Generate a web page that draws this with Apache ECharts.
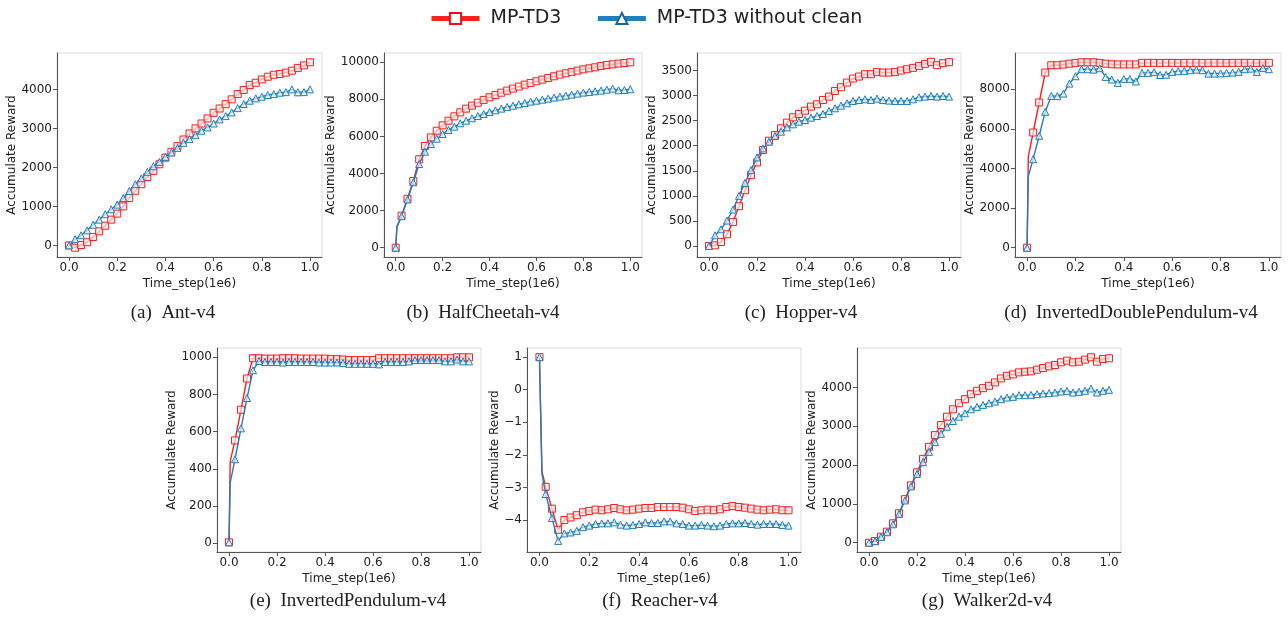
<!DOCTYPE html>
<html>
<head>
<meta charset="utf-8">
<script src="https://cdn.jsdelivr.net/npm/echarts@6/dist/echarts.min.js"></script>
<style>
  html, body { margin: 0; padding: 0; background: #fff; }
  #chart { width: 1288px; height: 625px; }
</style>
</head>
<body>
<div id="chart"></div>
<script>
// time steps (1e6), one marker every 0.025
const steps = [0, 0.025, 0.05, 0.075, 0.1, 0.125, 0.15, 0.175, 0.2, 0.225, 0.25, 0.275, 0.3, 0.325, 0.35, 0.375, 0.4,
  0.425, 0.45, 0.475, 0.5, 0.525, 0.55, 0.575, 0.6, 0.625, 0.65, 0.675, 0.7, 0.725, 0.75, 0.775, 0.8, 0.825, 0.85,
  0.875, 0.9, 0.925, 0.95, 0.975, 1.0];
const xTicks = [0, 0.2, 0.4, 0.6, 0.8, 1.0];

// (a) Ant-v4
const antRed = [0, -60, 10, 80, 215, 360, 505, 660, 815, 1000, 1215, 1400, 1570, 1755, 1910, 2080, 2250, 2400, 2545,
  2715, 2870, 3000, 3125, 3255, 3400, 3510, 3620, 3745, 3880, 3985, 4110, 4170, 4255, 4325, 4375, 4395, 4430, 4480,
  4550, 4615, 4695];
const antBlue = [0, 160, 260, 385, 530, 660, 800, 925, 1045, 1215, 1395, 1570, 1720, 1885, 2030, 2140, 2270, 2380,
  2500, 2630, 2725, 2825, 2940, 3025, 3125, 3230, 3315, 3410, 3520, 3625, 3710, 3770, 3810, 3855, 3880, 3915, 3930,
  4000, 3925, 3930, 4000];
const antTicks = [0, 1000, 2000, 3000, 4000];

// (b) HalfCheetah-v4
const cheetahRed = [0, 1730, 2640, 3600, 4770, 5490, 5950, 6310, 6600, 6850, 7085, 7300, 7500, 7660, 7820, 7970, 8110,
  8240, 8360, 8470, 8580, 8690, 8795, 8885, 8975, 9065, 9155, 9245, 9335, 9405, 9480, 9550, 9620, 9675, 9730, 9800,
  9855, 9890, 9930, 9960, 10000];
const cheetahBlue = [0, 1700, 2600, 3530, 4515, 5180, 5590, 5880, 6130, 6350, 6530, 6710, 6850, 6980, 7100, 7210, 7320,
  7410, 7500, 7590, 7660, 7735, 7805, 7880, 7930, 7985, 8040, 8095, 8150, 8200, 8255, 8310, 8365, 8400, 8435, 8470,
  8525, 8580, 8490, 8505, 8545];
const cheetahEarlyRed = [0.005, 1150];
const cheetahEarlyBlue = [0.005, 1100];
const cheetahTicks = [0, 2000, 4000, 6000, 8000, 10000];

// (c) Hopper-v4
const hopperRed = [0, 13, 80, 233, 480, 793, 1113, 1413, 1667, 1913, 2100, 2213, 2347, 2460, 2567, 2633, 2700, 2780,
  2827, 2913, 2980, 3093, 3167, 3260, 3340, 3380, 3427, 3427, 3473, 3460, 3460, 3473, 3500, 3527, 3553, 3593, 3633,
  3673, 3607, 3647, 3667];
const hopperBlue = [0, 213, 333, 507, 727, 1000, 1260, 1513, 1767, 1947, 2080, 2193, 2280, 2367, 2427, 2480, 2513, 2560,
  2593, 2633, 2693, 2747, 2800, 2847, 2893, 2913, 2927, 2913, 2940, 2913, 2900, 2893, 2893, 2893, 2927, 2967, 2980,
  2993, 2980, 2993, 2980];
const hopperTicks = [0, 500, 1000, 1500, 2000, 2500, 3000, 3500];

// (d) InvertedDoublePendulum-v4
const idpRed = [0, 5815, 7330, 8840, 9210, 9210, 9245, 9290, 9330, 9360, 9360, 9360, 9330, 9290, 9260, 9250, 9250,
  9250, 9250, 9330, 9330, 9330, 9325, 9330, 9330, 9320, 9330, 9330, 9330, 9325, 9330, 9330, 9330, 9320, 9330, 9330,
  9330, 9330, 9325, 9330, 9330];
const idpBlue = [0, 4470, 5650, 6860, 7660, 7650, 7780, 8285, 8655, 9010, 9010, 8990, 9060, 8620, 8490, 8320, 8520,
  8520, 8390, 8825, 8825, 8860, 8720, 8730, 8875, 8910, 8925, 8960, 8990, 8960, 8790, 8790, 8800, 8825, 8840, 8875,
  9010, 9040, 8875, 9075, 9010];
const idpEarlyRed = [0.005, 4590];
const idpEarlyBlue = [0.005, 3610];
const idpTicks = [0, 2000, 4000, 6000, 8000];

// (e) InvertedPendulum-v4
const ipRed = [5, 553, 718, 886, 995, 995, 993, 993, 993, 995, 995, 995, 993, 993, 993, 993, 993, 990, 990, 988, 985,
  985, 985, 985, 985, 995, 995, 995, 995, 995, 995, 995, 995, 995, 995, 995, 995, 995, 1000, 1000, 1000];
const ipBlue = [5, 452, 618, 781, 930, 980, 975, 975, 975, 972, 975, 975, 975, 975, 975, 972, 972, 972, 972, 970, 965,
  965, 965, 965, 965, 962, 975, 975, 975, 975, 978, 985, 985, 985, 985, 985, 978, 978, 988, 978, 978];
const ipEarlyRed = [0.005, 440];
const ipEarlyBlue = [0.005, 325];
const ipTicks = [0, 200, 400, 600, 800, 1000];

// (f) Reacher-v4
const reacherRed = [1.0, -2.98, -3.65, -4.3, -4.0, -3.92, -3.85, -3.76, -3.72, -3.68, -3.70, -3.67, -3.63, -3.67, -3.70,
  -3.68, -3.65, -3.63, -3.63, -3.60, -3.60, -3.60, -3.60, -3.62, -3.67, -3.72, -3.70, -3.68, -3.70, -3.67, -3.60, -3.57,
  -3.60, -3.62, -3.65, -3.68, -3.70, -3.68, -3.67, -3.70, -3.70];
const reacherBlue = [1.0, -3.2, -3.94, -4.64, -4.41, -4.38, -4.33, -4.22, -4.17, -4.12, -4.10, -4.10, -4.07, -4.14,
  -4.17, -4.15, -4.12, -4.07, -4.09, -4.09, -4.04, -4.04, -4.10, -4.12, -4.17, -4.17, -4.15, -4.17, -4.19, -4.17, -4.12,
  -4.10, -4.10, -4.09, -4.12, -4.14, -4.12, -4.12, -4.12, -4.15, -4.17];
const reacherEarlyRed = [0.01, -2.51];
const reacherEarlyBlue = [0.01, -2.58];
const reacherTicks = [-5, -4, -3, -2, -1, 0, 1];

// (g) Walker2d-v4
const walkerRed = [0, 43, 155, 285, 500, 760, 1123, 1477, 1814, 2160, 2471, 2773, 3032, 3248, 3438, 3594, 3698, 3827,
  3914, 3983, 4043, 4130, 4233, 4302, 4337, 4389, 4406, 4415, 4458, 4501, 4544, 4579, 4648, 4691, 4648, 4665, 4717,
  4778, 4665, 4734, 4752];
const walkerBlue = [0, 40, 150, 270, 475, 743, 1089, 1451, 1771, 2073, 2341, 2592, 2808, 2989, 3136, 3248, 3335, 3438,
  3499, 3551, 3594, 3637, 3698, 3741, 3758, 3801, 3801, 3810, 3827, 3845, 3853, 3870, 3896, 3914, 3870, 3888, 3914,
  3974, 3870, 3914, 3940];
const walkerTicks = [0, 1000, 2000, 3000, 4000];

const RED = '#ff1f1f';
const BLUE = '#1f80c0';
const FONT = 'DejaVu Sans';

const panels = [
  { caption: '(a)  Ant-v4', red: antRed, blue: antBlue, ticks: antTicks, ymin: -298, ymax: 4933 },
  { caption: '(b)  HalfCheetah-v4', red: cheetahRed, blue: cheetahBlue, er: cheetahEarlyRed, eb: cheetahEarlyBlue, ticks: cheetahTicks, ymin: -500, ymax: 10500 },
  { caption: '(c)  Hopper-v4', red: hopperRed, blue: hopperBlue, ticks: hopperTicks, ymin: -220, ymax: 3850 },
  { caption: '(d)  InvertedDoublePendulum-v4', red: idpRed, blue: idpBlue, er: idpEarlyRed, eb: idpEarlyBlue, ticks: idpTicks, ymin: -468, ymax: 9828 },
  { caption: '(e)  InvertedPendulum-v4', red: ipRed, blue: ipBlue, er: ipEarlyRed, eb: ipEarlyBlue, ticks: ipTicks, ymin: -47, ymax: 1050 },
  { caption: '(f)  Reacher-v4', red: reacherRed, blue: reacherBlue, er: reacherEarlyRed, eb: reacherEarlyBlue, ticks: reacherTicks, ymin: -4.98, ymax: 1.28 },
  { caption: '(g)  Walker2d-v4', red: walkerRed, blue: walkerBlue, ticks: walkerTicks, ymin: -239, ymax: 5017 }
];

// plot boxes: left, top, width, height, y-name gap, caption centre
const layout = [
  { l: 57, t: 53, w: 265, h: 204, gap: 34, cx: 173, cy: 313 },
  { l: 384, t: 53, w: 258, h: 204, gap: 41, cx: 483, cy: 313 },
  { l: 697, t: 53, w: 264, h: 204, gap: 34, cx: 801, cy: 313 },
  { l: 1015, t: 53, w: 266, h: 204, gap: 34, cx: 1131, cy: 313 },
  { l: 217, t: 348, w: 264, h: 204, gap: 34, cx: 348, cy: 601 },
  { l: 527, t: 348, w: 274, h: 204, gap: 25, cx: 660, cy: 601 },
  { l: 857, t: 348, w: 264, h: 204, gap: 34, cx: 987, cy: 601 }
];

function buildData(vals, early) {
  const d = steps.map((x, i) => [x, vals[i]]);
  if (early) d.splice(1, 0, { value: early, symbol: 'none' });
  return d;
}

const grid = [], xAxis = [], yAxis = [], series = [], graphic = [];
panels.forEach((p, i) => {
  const b = layout[i];
  grid.push({
    left: b.l, top: b.t, width: b.w, height: b.h,
    show: true, borderColor: '#dcdcdc', borderWidth: 1
  });
  xAxis.push({
    gridIndex: i, type: 'value', min: -0.05, max: 1.05,
    name: 'Time_step(1e6)', nameLocation: 'middle', nameGap: 21,
    nameTextStyle: { fontFamily: FONT, fontSize: 12, color: '#222' },
    axisLine: { show: true, onZero: false, lineStyle: { color: '#555', width: 1 } },
    axisTick: { show: true, length: 4, customValues: xTicks, lineStyle: { color: '#555' } },
    axisLabel: {
      customValues: xTicks, margin: 5, fontFamily: FONT, fontSize: 12, color: '#222',
      formatter: v => v.toFixed(1)
    },
    splitLine: { show: false }
  });
  yAxis.push({
    gridIndex: i, type: 'value', min: p.ymin, max: p.ymax,
    name: 'Accumulate Reward', nameLocation: 'middle', nameGap: b.gap,
    nameTextStyle: { fontFamily: FONT, fontSize: 12, color: '#222' },
    axisLine: { show: true, onZero: false, lineStyle: { color: '#555', width: 1 } },
    axisTick: { show: true, length: 4, customValues: p.ticks, lineStyle: { color: '#555' } },
    axisLabel: {
      customValues: p.ticks, margin: 5, fontFamily: FONT, fontSize: 12, color: '#222',
      formatter: v => String(v).replace('-', '\u2212')
    },
    splitLine: { show: false }
  });
  series.push({
    type: 'line', name: 'MP-TD3', xAxisIndex: i, yAxisIndex: i,
    data: buildData(p.red, p.er),
    symbol: 'rect', symbolSize: 7, showAllSymbol: true,
    lineStyle: { color: RED, width: 1.4 },
    itemStyle: { color: 'rgba(255,235,235,0.7)', borderColor: RED, borderWidth: 1 },
    z: 2
  });
  series.push({
    type: 'line', name: 'MP-TD3 without clean', xAxisIndex: i, yAxisIndex: i,
    data: buildData(p.blue, p.eb),
    symbol: 'triangle', symbolSize: 7, showAllSymbol: true,
    lineStyle: { color: BLUE, width: 1.4 },
    itemStyle: { color: 'rgba(230,240,250,0.7)', borderColor: BLUE, borderWidth: 1 },
    z: 3
  });
  graphic.push({
    type: 'text', z: 10,
    style: {
      text: p.caption, x: b.cx, y: b.cy, align: 'center', verticalAlign: 'middle',
      font: '19px "Liberation Serif"', fill: '#222'
    }
  });
});

const chart = echarts.init(document.getElementById('chart'));
chart.setOption({
  animation: false,
  backgroundColor: '#fff',
  legend: {
    top: 4, left: 424,
    itemWidth: 48, itemHeight: 14, itemGap: 34,
    textStyle: { fontFamily: FONT, fontSize: 19, color: '#222', padding: [0, 0, 0, 6] },
    lineStyle: { width: 5 },
    data: [
      { name: 'MP-TD3', itemStyle: { color: '#fff', borderColor: '#ee1111', borderWidth: 2 } },
      { name: 'MP-TD3 without clean', itemStyle: { color: '#fff', borderColor: '#1565a8', borderWidth: 2 } }
    ]
  },
  grid, xAxis, yAxis, series, graphic
});
</script>
</body>
</html>
